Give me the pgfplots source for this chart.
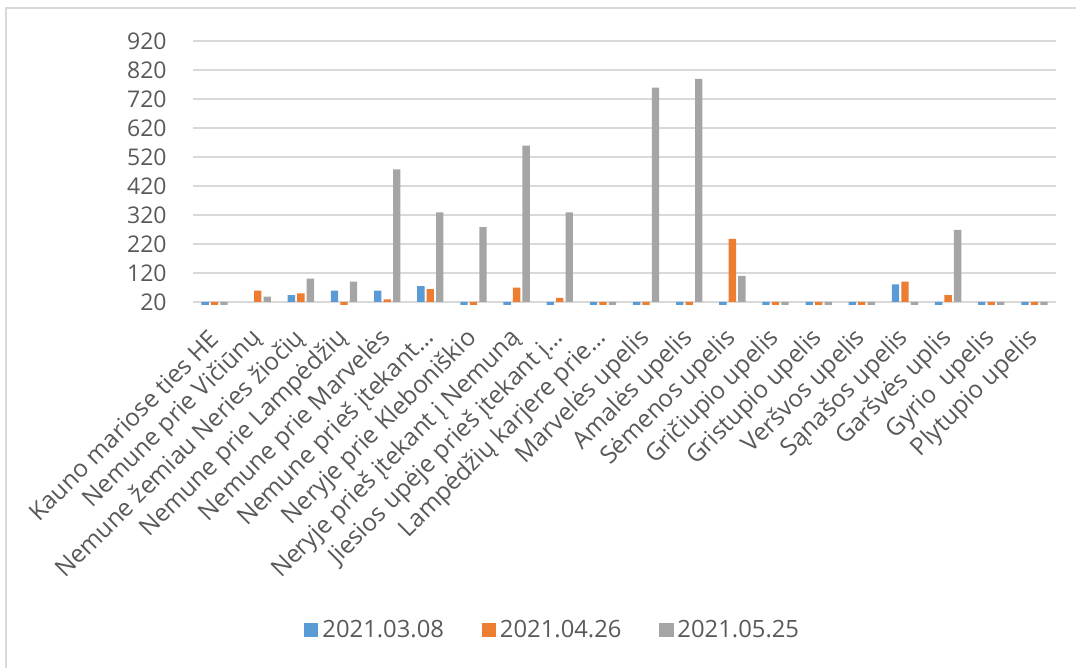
\documentclass[border=0pt]{standalone}
\usepackage{fontspec}
\setmainfont{Open Sans}
\usepackage{pgfplots}
\usepackage{pgfplotstable}
\pgfplotsset{compat=1.18}

\definecolor{sone}{HTML}{5B9BD5}
\definecolor{stwo}{HTML}{ED7D31}
\definecolor{sthree}{HTML}{A5A5A5}
\definecolor{txt}{HTML}{595959}
\definecolor{gridc}{HTML}{D9D9D9}

% values below the 20 baseline are only shown as short stubs in the original
\pgfplotstableread{
x  a    b    c
0  5    5    5
1  nan  59   38
2  43   49   100
3  59   5    90
4  59   29   477
5  74   64   329
6  5    5    278
7  5    69   559
8  5    34   329
9  5    5    5
10 5    5    759
11 5    5    789
12 5    237  110
13 5    5    5
14 5    5    5
15 5    5    5
16 80   90   5
17 5    43   268
18 5    5    5
19 5    5    5
}\datatable

\begin{document}
\begin{tikzpicture}
\useasboundingbox (0,0) rectangle (538pt,-334pt);
\draw[gridc, line width=1pt] (2.75pt,-400pt) |- (600pt,-4.25pt);
\begin{axis}[
    at={(96.5pt,-152.25pt)}, anchor=south west,
    scale only axis,
    width=431.5pt, height=131.8pt,
    ybar, bar width=0.17,
    ymin=11, ymax=920,
    y coord trafo/.code={\pgfmathparse{#1-20}},
    xmin=-0.5, xmax=19.5,
    xtick={0,...,19},
    xticklabels={
        Kauno mariose ties HE,
        Nemune prie Vičiūnų,
        Nemune žemiau Neries žiočių,
        Nemune prie Lampėdžių,
        Nemune prie Marvelės,
        Nemune prieš įtekant…,
        Neryje prie Kleboniškio,
        Neryje prieš įtekant į Nemuną,
        Jiesios upėje prieš įtekant į…,
        Lampėdžių karjere prie…,
        Marvelės upelis,
        Amalės upelis,
        Sėmenos upelis,
        Gričiupio upelis,
        Gristupio upelis,
        Veršvos upelis,
        Sąnašos upelis,
        Garšvės uplis,
        Gyrio\ \ upelis,
        Plytupio upelis},
    ytick={20,120,220,320,420,520,620,720,820,920},
    yticklabels={20,120,220,320,420,520,620,720,820,920},
    ymajorgrids,
    grid style={gridc, line width=0.75pt},
    axis line style={draw=none},
    major tick length=0pt,
    yticklabel style={font=\fontsize{11.5}{13}\selectfont, text=txt, inner sep=0pt},
    xticklabel style={font=\fontsize{12.2}{14}\selectfont, text=txt,
        rotate=45, anchor=east, inner sep=0pt},
    xticklabel shift=15pt,
    yticklabel shift=13pt,
    unbounded coords=discard,
    clip=true,
    legend style={at={(0.418,-1.235)}, anchor=center, draw=none, fill=none,
        legend columns=3, font=\fontsize{11.9}{14}\selectfont, text=txt,
        nodes={inner sep=2pt},
        /tikz/every even column/.append style={column sep=17pt}},
    legend image code/.code={\fill[#1] (0pt,-3.5pt) rectangle (7pt,3.5pt);},
]
\addplot[fill=sone, draw=none, bar shift=-0.22] table[x=x, y=a] {\datatable};
\addplot[fill=stwo, draw=none, bar shift=0] table[x=x, y=b] {\datatable};
\addplot[fill=sthree, draw=none, bar shift=0.22] table[x=x, y=c] {\datatable};
\legend{2021.03.08, 2021.04.26, 2021.05.25}
\end{axis}
\end{tikzpicture}
\end{document}
